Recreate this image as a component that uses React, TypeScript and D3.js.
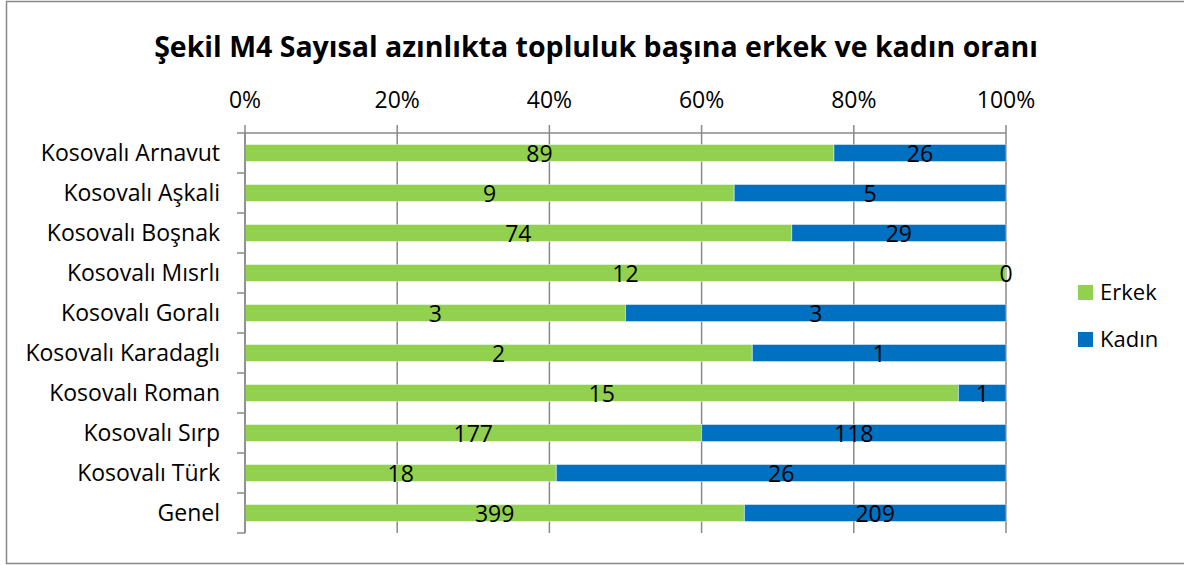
import { useRef, useEffect } from "react";
import { select, scaleLinear, scaleBand, stack } from "d3";

// data
const categories = [
  "Kosovalı Arnavut",
  "Kosovalı Aşkali",
  "Kosovalı Boşnak",
  "Kosovalı Mısrlı",
  "Kosovalı Goralı",
  "Kosovalı Karadaglı",
  "Kosovalı Roman",
  "Kosovalı Sırp",
  "Kosovalı Türk",
  "Genel",
];
const erkek = [89, 9, 74, 12, 3, 2, 15, 177, 18, 399];
const kadin = [26, 5, 29, 0, 3, 1, 1, 118, 26, 209];
const seriesNames = ["Erkek", "Kadın"];
const colors = ["#92D050", "#0070C0"];
const tickValues = [0, 0.2, 0.4, 0.6, 0.8, 1];
const title = "Şekil M4 Sayısal azınlıkta topluluk başına erkek ve kadın oranı";

const W = 1184;
const H = 565;
const FONT = "'Open Sans', 'Noto Sans', sans-serif";

const App = () => {
  const svgRef = useRef<SVGSVGElement>(null);

  useEffect(() => {
    const svg = select(svgRef.current);
    svg.selectAll("*").remove();

    const left = 245;
    const right = 1006;
    const top = 133;
    const bottom = 533;

    const x = scaleLinear().domain([0, 1]).range([left, right]);
    const y = scaleBand<string>()
      .domain(categories)
      .range([top, bottom])
      .paddingInner(0.575)
      .paddingOuter(0.2875);

    const rows = categories.map((c, i) => {
      const tot = erkek[i] + kadin[i];
      return { cat: c, Erkek: erkek[i] / tot, Kadın: kadin[i] / tot, raw: [erkek[i], kadin[i]] };
    });
    const stacked = stack<any>().keys(seriesNames)(rows);

    // outer border
    svg
      .append("rect")
      .attr("x", 6.5)
      .attr("y", 1.5)
      .attr("width", 1190)
      .attr("height", 562)
      .attr("fill", "white")
      .attr("stroke", "#888")
      .attr("stroke-width", 1.5);

    // title
    svg
      .append("text")
      .attr("x", 596)
      .attr("y", 57)
      .attr("text-anchor", "middle")
      .attr("font-family", FONT)
      .attr("font-weight", "bold")
      .attr("font-size", 28.5)
      .attr("fill", "#000")
      .text(title);

    // gridlines
    svg
      .selectAll(".grid")
      .data(tickValues)
      .join("line")
      .attr("x1", (d) => x(d))
      .attr("x2", (d) => x(d))
      .attr("y1", top - 8)
      .attr("y2", bottom)
      .attr("stroke", "#898989")
      .attr("stroke-width", 1.5);

    // top axis line
    svg
      .append("line")
      .attr("x1", left)
      .attr("x2", right)
      .attr("y1", top)
      .attr("y2", top)
      .attr("stroke", "#898989")
      .attr("stroke-width", 1.5);

    // tick labels
    svg
      .selectAll(".tick-label")
      .data(tickValues)
      .join("text")
      .attr("x", (d) => x(d))
      .attr("y", 108)
      .attr("text-anchor", "middle")
      .attr("font-family", FONT)
      .attr("font-size", 23)
      .attr("fill", "#000")
      .text((d) => `${Math.round(d * 100)}%`);

    // category axis ticks
    const bounds = categories.map((_, i) => top + (i * (bottom - top)) / categories.length);
    bounds.push(bottom);
    svg
      .selectAll(".cat-tick")
      .data(bounds)
      .join("line")
      .attr("x1", left - 8)
      .attr("x2", left)
      .attr("y1", (d) => d)
      .attr("y2", (d) => d)
      .attr("stroke", "#898989")
      .attr("stroke-width", 1.5);

    // category labels
    svg
      .selectAll(".cat-label")
      .data(categories)
      .join("text")
      .attr("x", 220)
      .attr("y", (d) => (y(d) as number) + y.bandwidth() / 2)
      .attr("dy", "0.35em")
      .attr("text-anchor", "end")
      .attr("font-family", FONT)
      .attr("font-size", 23)
      .attr("fill", "#000")
      .text((d) => d);

    // bars
    const g = svg
      .selectAll(".series")
      .data(stacked)
      .join("g")
      .attr("fill", (_, i) => colors[i]);
    g.selectAll("rect")
      .data((d) => d)
      .join("rect")
      .attr("x", (d) => x(d[0]))
      .attr("y", (d) => y(d.data.cat) as number)
      .attr("width", (d) => x(d[1]) - x(d[0]))
      .attr("height", y.bandwidth())
      .attr("stroke", "rgba(255,255,255,0.45)")
      .attr("stroke-width", 1);

    // left axis line
    svg
      .append("line")
      .attr("x1", left)
      .attr("x2", left)
      .attr("y1", top)
      .attr("y2", bottom)
      .attr("stroke", "#898989")
      .attr("stroke-width", 1.5);

    // data labels
    stacked.forEach((s, si) => {
      svg
        .selectAll(".lbl-" + si)
        .data(s)
        .join("text")
        .attr("x", (d) => (x(d[0]) + x(d[1])) / 2)
        .attr("y", (d) => (y(d.data.cat) as number) + y.bandwidth() / 2 + 1)
        .attr("dy", "0.35em")
        .attr("text-anchor", "middle")
        .attr("font-family", FONT)
        .attr("font-size", 23)
        .attr("fill", "#000")
        .text((d) => d.data.raw[si]);
    });

    // legend
    const legend = svg
      .selectAll(".legend")
      .data(seriesNames)
      .join("g")
      .attr("transform", (_, i) => `translate(1078, ${292 + i * 47})`);
    legend
      .append("rect")
      .attr("x", 0)
      .attr("y", -7)
      .attr("width", 15)
      .attr("height", 15)
      .attr("fill", (_, i) => colors[i]);
    legend
      .append("text")
      .attr("x", 22)
      .attr("y", 0)
      .attr("dy", "0.35em")
      .attr("font-family", FONT)
      .attr("font-size", 22)
      .attr("fill", "#000")
      .text((d) => d);
  }, []);

  return (
    <svg
      ref={svgRef}
      width={W}
      height={H}
      style={{ position: "absolute", left: 0, top: 0, display: "block" }}
    ></svg>
  );
};

export default App;
